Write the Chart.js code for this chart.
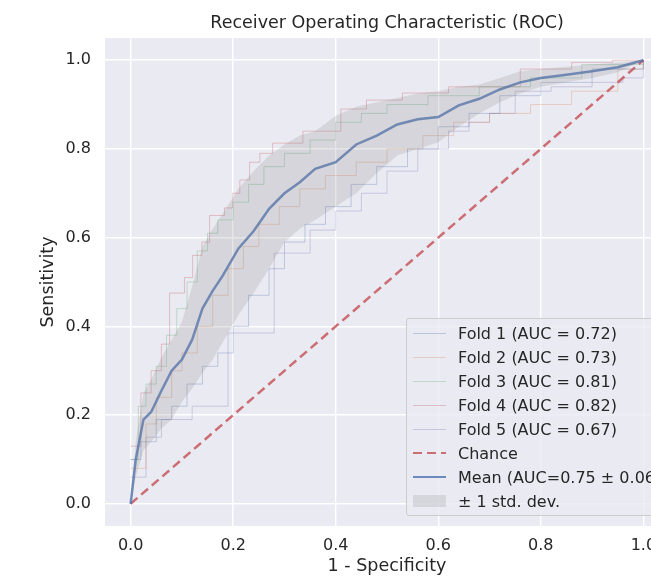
<!DOCTYPE html>
<html>
<head>
<meta charset="utf-8">
<script src="https://cdn.jsdelivr.net/npm/chart.js"></script>
<style>
  html, body { margin: 0; padding: 0; background: #fff; overflow: hidden; }
  #wrap { position: relative; width: 651px; height: 583px; overflow: hidden; }
  #roc { position: absolute; left: 0; top: 0; }
  #legend {
    position: absolute; left: 406px; top: 318px; width: 270px; height: 198px;
    background: rgba(234, 234, 242, 0.8); border: 1px solid #cccccc; border-radius: 3px;
    font-family: 'DejaVu Sans', sans-serif; font-size: 16px; color: #262626;
    padding-top: 2px; box-sizing: border-box;
  }
  #legend .row { height: 24px; display: flex; align-items: center; white-space: nowrap; }
  #legend .handle { width: 33px; margin-left: 6px; margin-right: 12px; position: relative; height: 12px; }
  #legend .handle span { position: absolute; left: 0; right: 0; top: 50%; }
</style>
</head>
<body>
<div id="wrap">
  <canvas id="roc" width="680" height="583"></canvas>
  <div id="legend"></div>
</div>
<script>
const xTicks = [0, 0.2, 0.4, 0.6, 0.8, 1.0];
const yTicks = [0, 0.2, 0.4, 0.6, 0.8, 1.0];

const foldLabels = ['Fold 1 (AUC = 0.72)', 'Fold 2 (AUC = 0.73)', 'Fold 3 (AUC = 0.81)', 'Fold 4 (AUC = 0.82)', 'Fold 5 (AUC = 0.67)'];
const foldColors = ['76, 114, 176', '221, 132, 82', '85, 168, 104', '196, 78, 82', '129, 114, 179'];

// each point = top of a vertical jump, line runs flat to the next fpr
const fold1Fpr = [0, 0.02, 0.05, 0.08, 0.11, 0.14, 0.17, 0.20, 0.23, 0.27, 0.30, 0.34, 0.38, 0.43, 0.48, 0.54, 0.60, 0.66, 0.72, 0.80, 0.90, 1.0];
const fold1Tpr = [0.10, 0.14, 0.19, 0.22, 0.27, 0.31, 0.34, 0.40, 0.47, 0.53, 0.59, 0.63, 0.67, 0.72, 0.76, 0.80, 0.85, 0.88, 0.92, 0.95, 0.98, 1.0];
const fold2Fpr = [0, 0.03, 0.05, 0.08, 0.10, 0.13, 0.16, 0.19, 0.22, 0.25, 0.29, 0.33, 0.38, 0.44, 0.50, 0.57, 0.63, 0.70, 0.78, 0.86, 0.95, 1.0];
const fold2Tpr = [0.08, 0.18, 0.24, 0.30, 0.34, 0.40, 0.47, 0.53, 0.58, 0.63, 0.67, 0.71, 0.74, 0.77, 0.80, 0.83, 0.86, 0.88, 0.90, 0.93, 0.98, 1.0];
const fold3Fpr = [0, 0.015, 0.03, 0.05, 0.07, 0.09, 0.11, 0.13, 0.15, 0.17, 0.20, 0.23, 0.26, 0.30, 0.35, 0.40, 0.45, 0.50, 0.58, 0.68, 0.78, 0.88, 1.0];
const fold3Tpr = [0.10, 0.22, 0.27, 0.31, 0.38, 0.44, 0.50, 0.57, 0.61, 0.64, 0.68, 0.72, 0.76, 0.79, 0.82, 0.86, 0.88, 0.90, 0.92, 0.94, 0.96, 0.99, 1.0];
const fold4Fpr = [0, 0.02, 0.04, 0.06, 0.076, 0.105, 0.121, 0.139, 0.154, 0.183, 0.199, 0.213, 0.232, 0.252, 0.277, 0.336, 0.41, 0.46, 0.53, 0.62, 0.76, 0.86, 0.94, 1.0];
const fold4Tpr = [0.13, 0.25, 0.30, 0.36, 0.475, 0.51, 0.56, 0.59, 0.65, 0.667, 0.70, 0.73, 0.77, 0.79, 0.813, 0.84, 0.89, 0.91, 0.926, 0.94, 0.98, 0.995, 1.0, 1.0];
const fold5Fpr = [0, 0.03, 0.06, 0.12, 0.19, 0.28, 0.35, 0.40, 0.45, 0.50, 0.56, 0.62, 0.66, 0.70, 0.75, 0.82, 0.90, 0.96, 1.0];
const fold5Tpr = [0.06, 0.15, 0.19, 0.22, 0.385, 0.565, 0.617, 0.66, 0.70, 0.75, 0.80, 0.84, 0.86, 0.88, 0.93, 0.94, 0.95, 0.96, 1.0];

const chanceFpr = [0, 1];
const chanceTpr = [0, 1];

const meanFpr = [0, 0.01, 0.025, 0.04, 0.06, 0.08, 0.10, 0.12, 0.14, 0.16, 0.18, 0.21, 0.24, 0.27, 0.30, 0.33, 0.36, 0.40, 0.44, 0.48, 0.52, 0.56, 0.60, 0.64, 0.68, 0.72, 0.76, 0.80, 0.85, 0.90, 0.95, 1.0];
const meanTpr = [0, 0.10, 0.19, 0.207, 0.255, 0.30, 0.325, 0.37, 0.44, 0.48, 0.515, 0.575, 0.615, 0.665, 0.70, 0.725, 0.755, 0.77, 0.81, 0.83, 0.855, 0.867, 0.872, 0.898, 0.913, 0.934, 0.95, 0.96, 0.967, 0.975, 0.984, 1.0];
const stdUpper = [0, 0.14, 0.25, 0.28, 0.33, 0.37, 0.41, 0.49, 0.58, 0.62, 0.655, 0.71, 0.75, 0.785, 0.81, 0.83, 0.84, 0.875, 0.895, 0.905, 0.915, 0.925, 0.93, 0.94, 0.945, 0.96, 0.975, 0.98, 0.985, 0.99, 0.995, 1.0];
const stdLower = [0, 0.06, 0.12, 0.14, 0.17, 0.19, 0.23, 0.26, 0.295, 0.325, 0.365, 0.425, 0.475, 0.53, 0.59, 0.62, 0.64, 0.67, 0.70, 0.745, 0.785, 0.80, 0.815, 0.85, 0.88, 0.905, 0.925, 0.94, 0.95, 0.96, 0.973, 1.0];

const meanLabel = 'Mean (AUC=0.75 \u00b1 0.06)';
const stdLabel = '\u00b1 1 std. dev.';
const chanceLabel = 'Chance';

const toPoints = (xs, ys) => xs.map((x, i) => ({x: x, y: ys[i]}));

const foldData = [
  [fold1Fpr, fold1Tpr], [fold2Fpr, fold2Tpr], [fold3Fpr, fold3Tpr], [fold4Fpr, fold4Tpr], [fold5Fpr, fold5Tpr]
];

const datasets = [];
// band first so fill '+1' points at the lower edge
datasets.push({
  label: stdLabel, data: toPoints(meanFpr, stdUpper), borderColor: 'transparent', borderWidth: 0,
  backgroundColor: 'rgba(128, 128, 128, 0.2)', fill: '+1', pointRadius: 0, order: 0
});
datasets.push({
  label: 'lower', data: toPoints(meanFpr, stdLower), borderColor: 'transparent', borderWidth: 0,
  fill: false, pointRadius: 0, order: 0
});
datasets.push({
  label: meanLabel, data: toPoints(meanFpr, meanTpr), borderColor: 'rgba(76, 114, 176, 0.8)',
  borderWidth: 2.5, fill: false, pointRadius: 0, order: 1
});
datasets.push({
  label: chanceLabel, data: toPoints(chanceFpr, chanceTpr), borderColor: 'rgba(196, 78, 82, 0.8)',
  borderWidth: 2.5, borderDash: [9, 5], fill: false, pointRadius: 0, order: 2
});
foldData.forEach((f, i) => {
  datasets.push({
    label: foldLabels[i], data: toPoints(f[0], f[1]), borderColor: `rgba(${foldColors[i]}, 0.3)`,
    borderWidth: 1, stepped: 'before', fill: false, pointRadius: 0, order: 3 + i
  });
});

const plotBg = {
  id: 'plotBg',
  beforeDraw: (chart) => {
    const {ctx, chartArea} = chart;
    ctx.save();
    ctx.fillStyle = '#EAEAF2';
    ctx.fillRect(chartArea.left, chartArea.top, chartArea.right - chartArea.left, chartArea.bottom - chartArea.top);
    ctx.restore();
  }
};

Chart.defaults.font.family = "'DejaVu Sans', sans-serif";
Chart.defaults.color = '#262626';

const rocChart = new Chart(document.getElementById('roc'), {
  type: 'line',
  data: { datasets: datasets },
  plugins: [plotBg],
  options: {
    responsive: false,
    animation: false,
    devicePixelRatio: 1,
    layout: { padding: { left: 0, right: 11, top: 0, bottom: 0 } },
    plugins: {
      legend: { display: false },
      tooltip: { enabled: false },
      title: {
        display: true, fullSize: false,
        text: 'Receiver Operating Characteristic (ROC)',
        font: { size: 17.5, weight: 'normal' }, color: '#262626',
        padding: { top: 12.5, bottom: 4.5 }
      }
    },
    scales: {
      x: {
        type: 'linear', min: -0.05, max: 1.05,
        afterBuildTicks: axis => { axis.ticks = xTicks.map(v => ({value: v})); },
        afterFit: s => { s.height = 57; },
        ticks: { callback: v => v.toFixed(1), font: { size: 16 }, color: '#262626', padding: 10, maxRotation: 0 },
        grid: { color: '#ffffff', lineWidth: 1.4, drawTicks: false },
        border: { display: false },
        title: { display: true, text: '1 - Specificity', font: { size: 17.5 }, color: '#262626', padding: { top: 0, bottom: 6.5 } }
      },
      y: {
        type: 'linear', min: -0.05, max: 1.05,
        afterBuildTicks: axis => { axis.ticks = yTicks.map(v => ({value: v})); },
        afterFit: s => { s.width = 105; },
        ticks: { callback: v => v.toFixed(1), font: { size: 16 }, color: '#262626', padding: 14 },
        grid: { color: '#ffffff', lineWidth: 1.4, drawTicks: false },
        border: { display: false },
        title: { display: true, text: 'Sensitivity', font: { size: 17.5 }, color: '#262626', padding: { top: 37.5, bottom: 0 } }
      }
    }
  }
});

// legend inside the axes, lower right
const legend_box = document.querySelector('#legend');
const add_row = (label, handleCss) => {
  const row = document.createElement('div');
  row.className = 'row';
  const handle = document.createElement('div');
  handle.className = 'handle';
  const mark = document.createElement('span');
  mark.style.cssText = handleCss;
  handle.appendChild(mark);
  const text = document.createElement('div');
  text.textContent = label;
  row.appendChild(handle);
  row.appendChild(text);
  legend_box.appendChild(row);
};
foldLabels.forEach((label, i) => {
  add_row(label, `border-top: 1px solid rgba(${foldColors[i]}, 0.3); margin-top: -0.5px;`);
});
add_row(chanceLabel, 'height: 2.5px; margin-top: -1.25px; background: repeating-linear-gradient(90deg, rgba(196,78,82,0.8) 0 9px, transparent 9px 14px);');
add_row(meanLabel, 'height: 2.5px; margin-top: -1.25px; background: rgba(76, 114, 176, 0.8);');
add_row(stdLabel, 'height: 12px; margin-top: -6px; background: rgba(128, 128, 128, 0.2);');
</script>
</body>
</html>
